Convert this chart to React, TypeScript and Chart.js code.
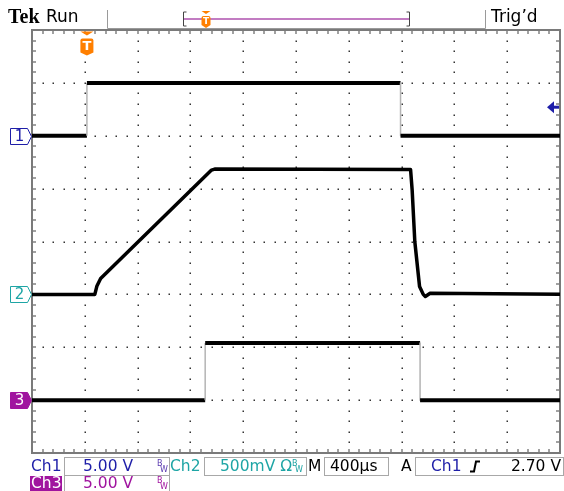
import React, { useEffect, useRef } from "react";
import { Chart, registerables } from "chart.js";

Chart.register(...registerables);

// Horizontal position in divisions (0..10), vertical in divisions (-4..4)
const ch1X = [0, 1.04, 1.04, 6.98, 6.98, 10];
const ch1Y = [2, 2, 3, 3, 2, 2];
const ch2X = [0, 1.19, 1.23, 1.3, 3.4, 3.46, 7.17, 7.2, 7.25, 7.34, 7.41, 7.45, 7.54, 10];
const ch2Y = [-1, -1, -0.84, -0.7, 1.35, 1.37, 1.36, 0.97, 0, -0.85, -1.0, -1.04, -0.98, -1];
const ch3X = [0, 3.28, 3.28, 7.35, 7.35, 10];
const ch3Y = [-3, -3, -1.92, -1.92, -3, -3];

const channelNames = ["1", "2", "3"];
const channelGround = [2, -1, -3];
const triggerPosDiv = 1.04;
const triggerLevelDiv = 2.54;

const ch1Label = "Ch1";
const ch2Label = "Ch2";
const ch3Label = "Ch3";
const ch1Scale = "5.00 V";
const ch2Scale = "500mV";
const ch3Scale = "5.00 V";
const timeScale = "400µs";
const trigSource = "Ch1";
const trigLevelText = "2.70 V";

const BLUE = "#1e1ea8";
const TEAL = "#1ea5a5";
const PURPLE = "#a0149f";
const ORANGE = "#ff7f00";
const FONT = "DejaVu Sans";

function pts(xs: number[], ys: number[]) {
  return xs.map((x, i) => ({ x, y: ys[i] }));
}

function drawTMarker(ctx: CanvasRenderingContext2D, cx: number, y0: number, w: number, triH: number, gap: number, shieldH: number, fontPx: number) {
  ctx.save();
  ctx.fillStyle = ORANGE;
  ctx.beginPath();
  ctx.moveTo(cx - w / 2, y0);
  ctx.lineTo(cx + w / 2, y0);
  ctx.lineTo(cx, y0 + triH);
  ctx.closePath();
  ctx.fill();
  const sy = y0 + triH + gap;
  const r = 2;
  ctx.beginPath();
  ctx.moveTo(cx - w / 2, sy + r);
  ctx.quadraticCurveTo(cx - w / 2, sy, cx - w / 2 + r, sy);
  ctx.lineTo(cx + w / 2 - r, sy);
  ctx.quadraticCurveTo(cx + w / 2, sy, cx + w / 2, sy + r);
  ctx.lineTo(cx + w / 2, sy + shieldH - 3);
  ctx.lineTo(cx, sy + shieldH);
  ctx.lineTo(cx - w / 2, sy + shieldH - 3);
  ctx.closePath();
  ctx.fill();
  ctx.fillStyle = "#fff";
  ctx.font = `bold ${fontPx}px ${FONT}`;
  ctx.textAlign = "center";
  ctx.textBaseline = "middle";
  ctx.fillText("T", cx, sy + shieldH / 2 - 0.5);
  ctx.restore();
}

function drawBW(ctx: CanvasRenderingContext2D, x: number, y: number, color: string) {
  ctx.save();
  ctx.fillStyle = color;
  ctx.font = `8px ${FONT}`;
  ctx.textAlign = "left";
  ctx.textBaseline = "middle";
  ctx.fillText("B", x, y - 3);
  ctx.fillText("W", x + 3, y + 3);
  ctx.restore();
}

const scopePlugin = {
  id: "scope",
  beforeDraw(chart: any) {
    const ctx: CanvasRenderingContext2D = chart.ctx;
    ctx.save();
    ctx.fillStyle = "#fff";
    ctx.fillRect(0, 0, chart.width, chart.height);
    ctx.restore();
  },
  beforeDatasetsDraw(chart: any) {
    const ctx: CanvasRenderingContext2D = chart.ctx;
    const xs = chart.scales.x;
    const ys = chart.scales.y;
    const { left, right, top, bottom } = chart.chartArea;
    ctx.save();
    // dotted graticule
    ctx.fillStyle = "#333";
    for (let i = 1; i < 10; i++) {
      const x = Math.round(xs.getPixelForValue(i));
      for (let j = 1; j < 40; j++) {
        const y = Math.round(ys.getPixelForValue(-4 + j * 0.2));
        ctx.fillRect(x - 0.5, y - 0.5, 1.5, 1.5);
      }
    }
    for (let i = -3; i < 4; i++) {
      const y = Math.round(ys.getPixelForValue(i));
      for (let j = 1; j < 50; j++) {
        if (j % 5 === 0) continue;
        const x = Math.round(xs.getPixelForValue(j * 0.2));
        ctx.fillRect(x - 0.5, y - 0.5, 1.5, 1.5);
      }
    }
    // frame
    ctx.strokeStyle = "#7a7a7a";
    ctx.lineWidth = 2;
    ctx.strokeRect(left, top, right - left, bottom - top);
    // edge ticks
    ctx.fillStyle = "#444";
    for (let j = 1; j < 50; j++) {
      const x = Math.round(xs.getPixelForValue(j * 0.2));
      ctx.fillRect(x - 0.5, top + 1, 1, 3);
      ctx.fillRect(x - 0.5, bottom - 4, 1, 3);
    }
    for (let j = 1; j < 40; j++) {
      const y = Math.round(ys.getPixelForValue(-4 + j * 0.2));
      ctx.fillRect(left + 1, y - 0.5, 3, 1);
      ctx.fillRect(right - 4, y - 0.5, 3, 1);
    }
    ctx.restore();
  },
  afterDatasetsDraw(chart: any) {
    const ctx: CanvasRenderingContext2D = chart.ctx;
    const xs = chart.scales.x;
    const ys = chart.scales.y;
    const { left, right, top } = chart.chartArea;
    ctx.save();

    // trigger position marker in graticule
    drawTMarker(ctx, xs.getPixelForValue(triggerPosDiv), top + 1.5, 13, 4, 3, 17, 13);

    // channel ground markers
    const colors = [BLUE, TEAL, PURPLE];
    channelNames.forEach((n, i) => {
      const yc = Math.round(ys.getPixelForValue(channelGround[i])) + 0.5;
      const x0 = 10.5;
      ctx.beginPath();
      ctx.moveTo(x0, yc - 8);
      ctx.lineTo(x0 + 17, yc - 8);
      ctx.lineTo(left - 0.5, yc);
      ctx.lineTo(x0 + 17, yc + 8);
      ctx.lineTo(x0, yc + 8);
      ctx.closePath();
      ctx.fillStyle = i === 2 ? PURPLE : "#fff";
      ctx.fill();
      ctx.strokeStyle = colors[i];
      ctx.lineWidth = 1;
      ctx.stroke();
      ctx.fillStyle = i === 2 ? "#fff" : colors[i];
      ctx.font = `15px ${FONT}`;
      ctx.textAlign = "center";
      ctx.textBaseline = "middle";
      ctx.fillText(n, x0 + 9, yc + 0.5);
    });

    // trigger level arrow (right)
    const ty = ys.getPixelForValue(triggerLevelDiv);
    ctx.fillStyle = BLUE;
    ctx.beginPath();
    ctx.moveTo(right - 13, ty);
    ctx.lineTo(right - 6, ty - 6);
    ctx.lineTo(right - 6, ty + 6);
    ctx.closePath();
    ctx.fill();
    ctx.fillRect(right - 7, ty - 1.5, 6, 3);

    // header
    ctx.fillStyle = "#000";
    ctx.textBaseline = "middle";
    ctx.textAlign = "left";
    ctx.font = `bold 20px "Liberation Serif"`;
    ctx.fillText("Tek", 8, 18);
    ctx.font = `17px ${FONT}`;
    ctx.fillText("Run", 46, 18);
    ctx.fillText("Trig\u2019d", 491, 18);
    ctx.strokeStyle = "#9a9a9a";
    ctx.lineWidth = 1;
    ctx.beginPath();
    ctx.moveTo(107.5, 10);
    ctx.lineTo(107.5, 28.5);
    ctx.lineTo(485.5, 28.5);
    ctx.lineTo(485.5, 10);
    ctx.stroke();
    // record window bar
    ctx.strokeStyle = "#444";
    ctx.beginPath();
    ctx.moveTo(186.5, 12);
    ctx.lineTo(183.5, 12);
    ctx.lineTo(183.5, 26);
    ctx.lineTo(186.5, 26);
    ctx.moveTo(406.5, 12);
    ctx.lineTo(409.5, 12);
    ctx.lineTo(409.5, 26);
    ctx.lineTo(406.5, 26);
    ctx.stroke();
    ctx.strokeStyle = "#c27cc2";
    ctx.lineWidth = 2;
    ctx.beginPath();
    ctx.moveTo(184, 19);
    ctx.lineTo(409, 19);
    ctx.stroke();
    drawTMarker(ctx, 206, 11, 9, 3, 2, 12, 9);

    // footer
    const r1 = 466.5;
    const r2 = 484;
    ctx.strokeStyle = "#a8a8a8";
    ctx.lineWidth = 1;
    const boxes = [
      [64.5, 457.5, 105, 18],
      [204.5, 457.5, 102, 18],
      [324.5, 457.5, 64, 18],
      [415.5, 457.5, 148, 18],
      [64.5, 475.5, 105, 16],
    ];
    boxes.forEach(([x, y, w, h]) => ctx.strokeRect(x, y, w, h));

    ctx.font = `15.5px ${FONT}`;
    ctx.textBaseline = "middle";
    ctx.textAlign = "left";
    ctx.fillStyle = BLUE;
    ctx.fillText(ch1Label, 31, r1);
    ctx.fillText(ch1Scale, 83, r1);
    drawBW(ctx, 157, r1, "#5a3ab0");
    ctx.fillStyle = TEAL;
    ctx.fillText(ch2Label, 170, r1);
    ctx.fillText(ch2Scale + " \u03A9", 220, r1);
    drawBW(ctx, 292, r1, TEAL);
    ctx.fillStyle = "#000";
    ctx.fillText("M", 308, r1);
    ctx.fillText(timeScale, 330, r1);
    ctx.fillText("A", 401, r1);
    ctx.fillStyle = BLUE;
    ctx.fillText(trigSource, 431, r1);
    // rising edge symbol
    ctx.strokeStyle = "#000";
    ctx.lineWidth = 2;
    ctx.beginPath();
    ctx.moveTo(470, r1 + 5);
    ctx.lineTo(474, r1 + 5);
    ctx.lineTo(476, r1 - 5);
    ctx.lineTo(480, r1 - 5);
    ctx.stroke();
    ctx.fillStyle = "#000";
    ctx.textAlign = "right";
    ctx.fillText(trigLevelText, 561, r1);

    ctx.textAlign = "left";
    ctx.fillStyle = PURPLE;
    ctx.fillRect(30, 476, 32, 15);
    ctx.fillStyle = "#fff";
    ctx.fillText(ch3Label, 31, r2);
    ctx.fillStyle = PURPLE;
    ctx.fillText(ch3Scale, 83, r2);
    drawBW(ctx, 157, r2, PURPLE);

    ctx.restore();
  },
};

export default function App() {
  const ref = useRef<HTMLCanvasElement | null>(null);
  useEffect(() => {
    if (!ref.current) return;
    const edge = (c: any) => c.p0.parsed.x === c.p1.parsed.x;
    const mk = (label: string, data: any[], w: number) => ({
      label,
      data,
      showLine: true,
      pointRadius: 0,
      borderColor: "#000",
      borderWidth: w,
      borderJoinStyle: "round",
      tension: 0,
      segment: {
        borderColor: (c: any) => (edge(c) ? "#b4b4b4" : "#000"),
        borderWidth: (c: any) => (edge(c) ? 1.5 : w),
      },
    });
    const chart = new Chart(ref.current, {
      type: "scatter",
      data: {
        datasets: [
          mk("Ch1", pts(ch1X, ch1Y), 4),
          mk("Ch2", pts(ch2X, ch2Y), 3.5),
          mk("Ch3", pts(ch3X, ch3Y), 4),
        ],
      },
      options: {
        animation: false,
        responsive: false,
        devicePixelRatio: 1,
        layout: { padding: { left: 32, right: 4, top: 30, bottom: 38 } },
        scales: {
          x: { type: "linear", min: 0, max: 10, display: false },
          y: { type: "linear", min: -4, max: 4, display: false },
        },
        plugins: { legend: { display: false }, tooltip: { enabled: false } },
      },
      plugins: [scopePlugin],
    } as any);
    return () => chart.destroy();
  }, []);
  return (
    <div style={{ position: "absolute", left: 0, top: 0, width: 564, height: 491 }}>
      <canvas ref={ref} width={564} height={491} />
    </div>
  );
}
